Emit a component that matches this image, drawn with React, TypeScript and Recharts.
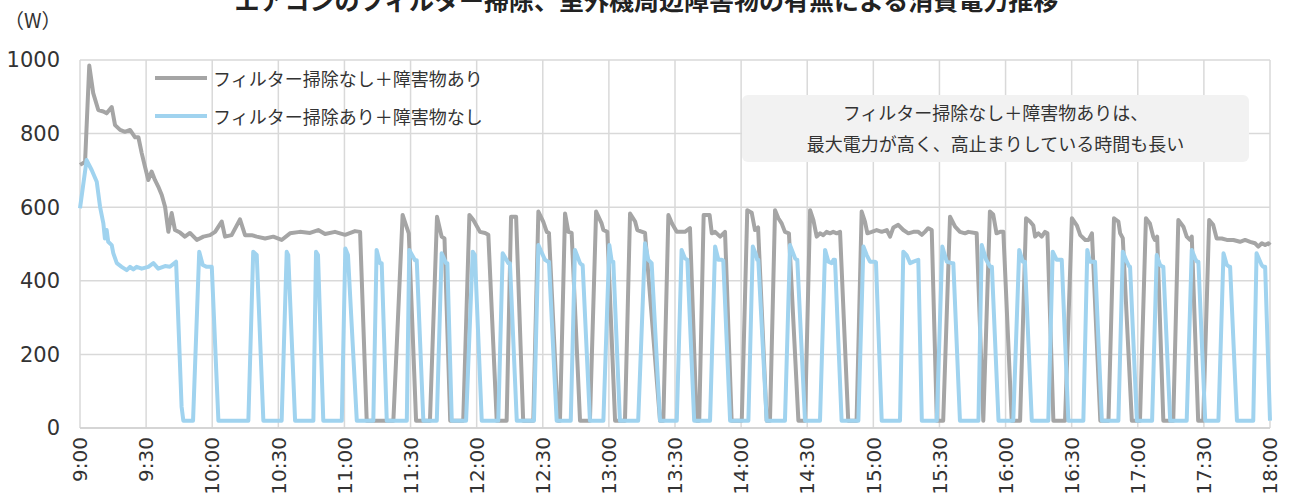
import React from 'react';
import { LineChart, Line, XAxis, YAxis, CartesianGrid } from 'recharts';

// minutes after 9:00, watts
const grayPoints: [number, number][] = [
  [0, 715], [2.3, 723], [4.2, 985], [6, 910], [8.3, 864], [10.6, 860], [12.1, 855], [14.4, 872], [15.9, 823],
  [18.2, 810], [20.4, 805], [22.7, 810], [25, 790], [26.5, 790], [28, 747], [29.5, 710], [31, 674], [32.5, 697],
  [34, 674], [35.5, 656], [37.1, 633], [38.6, 601], [40.1, 533], [41.6, 584], [43.1, 538], [45.4, 531], [47.6, 520],
  [49.9, 530], [53, 511], [56, 520], [59, 524], [61.3, 533], [64.3, 561], [65.8, 520], [68.8, 524], [72.6, 567],
  [74.9, 524], [77.9, 524], [80.2, 520], [84, 515], [87.7, 520], [91.5, 511], [95.3, 529], [99.8, 533], [104.4, 530],
  [108.1, 538], [111.2, 527], [115.7, 533], [120.3, 525], [124.8, 535], [127.1, 533],
  [130.1, 20], [142.2, 20], [146.4, 579], [148, 550], [149.2, 529], [152.5, 20], [158.8, 20], [162, 574],
  [164.1, 520], [165.4, 515], [168, 20], [173.9, 20], [176.7, 579], [178.5, 565], [181.5, 533], [183.8, 530],
  [185.3, 525], [189.1, 20], [193.6, 20], [195.6, 574], [197.9, 574], [201.1, 20], [205.7, 20], [208, 588],
  [210.2, 561], [211.8, 533], [212.8, 530], [216.9, 20], [217.8, 20], [220.1, 583], [221.6, 533], [223.1, 530],
  [226.9, 20], [231.4, 20], [234.2, 588], [236.7, 556], [237.5, 538], [239.3, 533], [242.8, 20], [247.3, 20],
  [249.6, 583], [251.9, 561], [252.9, 538], [256.4, 530], [263.2, 20], [264.7, 20], [267, 579], [268.7, 555],
  [270.8, 533], [272.3, 533], [274.5, 533], [276.8, 543], [279.8, 20], [281, 20], [283, 579], [285.7, 579],
  [286.7, 529], [288.2, 533], [290.5, 520], [292.7, 533], [295.7, 20], [300.3, 20], [302.8, 592], [304.8, 585],
  [306.3, 538], [307.7, 545], [311.6, 20], [313.1, 20], [315.4, 592], [316.9, 570], [318.4, 556], [319.9, 533],
  [321.7, 529], [326, 20], [329, 20], [331.3, 592], [332.8, 565], [334.3, 520], [335.8, 529], [337.3, 524],
  [338.8, 533], [340.3, 529], [341.8, 533], [343.4, 529], [344.9, 533], [348.6, 20], [352.4, 20], [354.7, 588],
  [356.2, 561], [357.3, 529], [359.3, 533], [361.5, 538], [363.8, 533], [366.1, 538], [367.6, 520], [369.1, 545],
  [371.3, 552], [373.6, 538], [375.9, 529], [378.2, 533], [380.4, 533], [382, 525], [383.4, 533], [384.9, 543],
  [386.5, 538], [388.8, 20], [391.7, 20], [394.8, 574], [397.1, 547], [399.3, 533], [401.6, 529], [403.1, 533],
  [406.9, 529], [409.9, 20], [412.9, 588], [414.4, 580], [415.9, 529], [417.5, 533], [419, 533], [422.8, 20],
  [426.6, 20], [429.3, 570], [431.1, 561], [432.6, 550], [433.4, 520], [434.9, 529], [436.4, 520], [437.9, 533],
  [439, 529], [441.7, 20], [447, 20], [450.1, 570], [452.4, 550], [453.9, 524], [456.2, 511], [457.7, 511],
  [459.2, 529], [463, 20], [466.7, 20], [469.2, 570], [471.2, 561], [472, 529], [473.2, 516], [477.3, 20],
  [481, 20], [483.7, 570], [485.5, 556], [487, 520], [487.8, 511], [488.8, 520], [491.6, 20], [496.1, 20],
  [498.4, 565], [500.7, 547], [502.2, 520], [503.7, 511], [504.5, 520], [507.4, 20], [509.7, 20], [512.4, 565],
  [514.2, 552], [515.8, 515], [518.1, 515], [520.4, 511], [523.4, 511], [526.4, 506], [528.7, 511], [531, 506],
  [533.2, 502], [534.7, 493], [536.3, 502], [537.8, 497], [539.3, 502], [540, 497],
];

const bluePoints: [number, number][] = [
  [0, 597], [3, 728], [5.3, 701], [7.6, 669], [9.1, 601], [10.6, 556], [11.3, 515], [12.1, 538], [12.8, 506],
  [14.4, 497], [15.1, 475], [16.7, 448], [18.9, 438], [21.2, 429], [22.7, 438], [24.2, 431], [25.7, 438], [28, 433],
  [31, 438], [33.3, 448], [35.5, 433], [38.6, 440], [40.8, 438], [43.6, 452], [46.1, 58], [46.9, 20],
  [51.3, 20], [54.1, 479], [55.7, 443], [57.5, 438], [59.8, 438], [62.8, 20], [76.4, 20], [78.6, 479], [80.2, 470],
  [83.2, 20], [91.5, 20], [93.8, 479], [94.5, 470], [97.6, 20], [105.9, 20], [107.1, 479], [108, 470], [110.4, 20],
  [118.8, 20], [120.4, 488], [121.6, 470], [125.6, 20], [133.1, 20], [134.6, 484], [136.1, 448], [136.9, 448],
  [139.2, 20], [148.3, 20], [149.4, 484], [152, 456], [152.8, 456], [155.8, 20], [161.9, 20], [164.1, 475],
  [166.1, 448], [166.7, 448], [168.7, 20], [175.2, 20], [178.2, 479], [179.2, 470], [182.3, 20], [189.8, 20],
  [191.8, 475], [194.4, 448], [195.1, 448], [198.2, 20], [206, 20], [208, 497], [211, 457], [212.4, 452],
  [212.8, 452], [216.3, 20], [222.7, 20], [224.6, 484], [226.9, 448], [227.7, 443], [228.1, 443], [231.4, 20],
  [237.5, 20], [240.2, 497], [241.3, 452], [242, 452], [245, 20], [253.3, 20], [256.4, 502], [257.9, 457],
  [259.4, 448], [263.2, 20], [270.8, 20], [273, 484], [274.5, 461], [275.6, 457], [278.7, 20], [285.9, 20],
  [288.2, 493], [289.7, 457], [291.2, 457], [291.9, 455], [295, 20], [303.3, 20], [305.3, 493], [306.8, 470],
  [307.3, 457], [307.8, 457], [311.6, 20], [319.9, 20], [322.2, 497], [324.5, 461], [325.2, 457], [325.5, 457],
  [329, 20], [335.8, 20], [338.1, 484], [339.6, 452], [341.1, 448], [341.9, 457], [342.6, 457], [345.6, 20],
  [353.2, 20], [355.5, 493], [357, 470], [358.5, 452], [360.8, 452], [361.2, 450], [363.8, 20], [372.1, 20],
  [373.6, 479], [375.1, 470], [376.7, 448], [378.2, 452], [380.4, 457], [382, 20], [388.8, 20], [391.3, 493],
  [393.3, 452], [395.6, 448], [396.3, 448], [399.3, 20], [407.7, 20], [409.2, 497], [411.2, 457], [413, 438],
  [413.8, 438], [416.8, 20], [423.5, 20], [426.2, 484], [427.8, 452], [428.8, 452], [431.9, 20], [439.4, 20],
  [441.4, 479], [443.2, 457], [444.7, 457], [445.5, 457], [448.5, 20], [455.3, 20], [457.1, 484], [458.3, 452],
  [459.9, 452], [460.6, 452], [463.7, 20], [471.2, 20], [473.2, 479], [475, 452], [476.2, 438], [476.5, 438],
  [479.6, 20], [486.5, 20], [488.6, 470], [490.1, 443], [491.3, 438], [491.6, 438], [494.7, 20], [502.2, 20],
  [504.5, 484], [506, 461], [506.8, 452], [507.5, 452], [510.6, 20], [516.6, 20], [518.9, 475], [520.4, 443],
  [521.6, 438], [521.9, 438], [525, 20], [532.4, 20], [533.9, 475], [536.2, 443], [536.9, 438], [537.8, 438],
  [540, 20],
];

const timeTicks = [0, 30, 60, 90, 120, 150, 180, 210, 240, 270, 300, 330, 360, 390, 420, 450, 480, 510, 540];
const timeLabels = ['9:00', '9:30', '10:00', '10:30', '11:00', '11:30', '12:00', '12:30', '13:00', '13:30',
  '14:00', '14:30', '15:00', '15:30', '16:00', '16:30', '17:00', '17:30', '18:00'];
const wattTicks = [0, 200, 400, 600, 800, 1000];

const seriesNames = ['フィルター掃除なし＋障害物あり', 'フィルター掃除あり＋障害物なし'];
const seriesColors = ['#a5a5a5', '#a0d3ef'];

const title = 'エアコンのフィルター掃除、室外機周辺障害物の有無による消費電力推移';
const noteLines = ['フィルター掃除なし＋障害物ありは、', '最大電力が高く、高止まりしている時間も長い'];

const grayData = grayPoints.map(([t, w]) => ({ t, w }));
const blueData = bluePoints.map(([t, w]) => ({ t, w }));

const jp = '"Noto Sans CJK JP", "Noto Sans", sans-serif';
const num = '"DejaVu Sans", Verdana, sans-serif';

const TimeTick = (props: any) => {
  const { x, y, payload } = props;
  const label = timeLabels[timeTicks.indexOf(payload.value)] ?? '';
  return (
    <text x={x} y={y} dy="0.36em" transform={`rotate(-90 ${x} ${y})`} textAnchor="end"
      fontFamily={num} fontSize={20} fill="#333">
      {label}
    </text>
  );
};

export default function App() {
  return (
    <div style={{ position: 'absolute', left: 0, top: 0, width: 1293, height: 504, background: '#fff', overflow: 'hidden' }}>
      <div style={{ position: 'absolute', top: -16, left: 0, width: 1293, textAlign: 'center', fontFamily: jp,
        fontWeight: 700, fontSize: 25, lineHeight: '30px', color: '#222' }}>
        {title}
      </div>
      <div style={{ position: 'absolute', top: 7, left: 4, fontFamily: jp, fontSize: 20, lineHeight: '26px', color: '#333' }}>
        （W）
      </div>

      <LineChart width={1293} height={504} data={grayData} margin={{ top: 60, right: 23, bottom: 0, left: 10 }}>
        <CartesianGrid stroke="#d9d9d9" strokeWidth={1.5} />
        <XAxis dataKey="t" type="number" domain={[0, 540]} ticks={timeTicks} interval={0} height={76}
          tick={<TimeTick />} tickLine={false} tickMargin={3} axisLine={{ stroke: '#d0d0d0', strokeWidth: 1.5 }} />
        <YAxis type="number" domain={[0, 1000]} ticks={wattTicks} width={70} tickLine={false} axisLine={false}
          tickMargin={14} tick={{ fontFamily: num, fontSize: 21, fill: '#333' }} />
        <Line data={grayData} dataKey="w" name={seriesNames[0]} type="linear" stroke={seriesColors[0]}
          strokeWidth={4} strokeLinejoin="round" dot={false} isAnimationActive={false} />
        <Line data={blueData} dataKey="w" name={seriesNames[1]} type="linear" stroke={seriesColors[1]}
          strokeWidth={4} strokeLinejoin="round" dot={false} isAnimationActive={false} />
      </LineChart>

      <div style={{ position: 'absolute', top: 64, left: 155, fontFamily: jp, fontSize: 18, color: '#333' }}>
        {seriesNames.map((n, i) => (
          <div key={n} style={{ display: 'flex', alignItems: 'center', height: 28, marginBottom: 10 }}>
            <div style={{ width: 52, height: 4, background: seriesColors[i], marginRight: 6 }} />
            <span>{n}</span>
          </div>
        ))}
      </div>

      <div style={{ position: 'absolute', left: 742, top: 95, width: 507, height: 67, background: '#f2f2f2',
        borderRadius: 6, fontFamily: jp, fontSize: 18, color: '#333', textAlign: 'center', lineHeight: '31px',
        paddingTop: 2, boxSizing: 'border-box' }}>
        {noteLines.map((l) => (<div key={l}>{l}</div>))}
      </div>
    </div>
  );
}
